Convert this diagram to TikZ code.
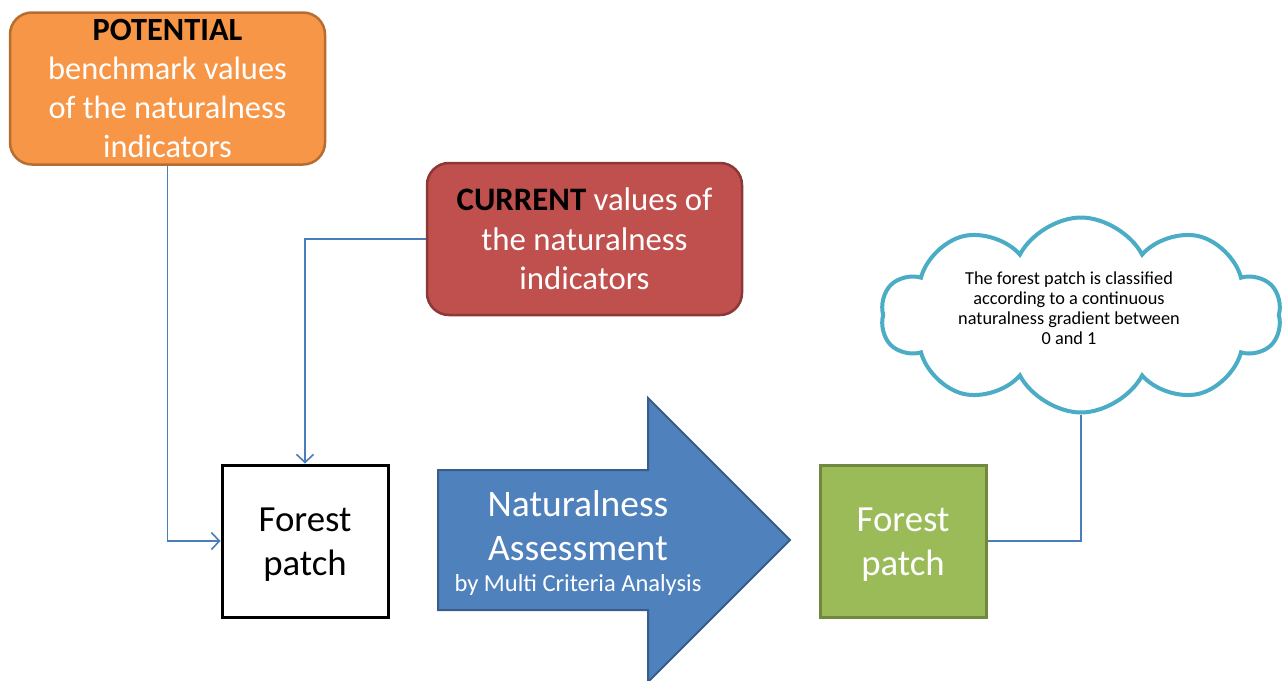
\documentclass[tikz,border=0pt]{standalone}
\usepackage{fontspec}
\setmainfont{Carlito}
\usetikzlibrary{arrows.meta,shapes.symbols}
\definecolor{orfill}{HTML}{F79646}
\definecolor{orline}{HTML}{B66D31}
\definecolor{rdfill}{HTML}{C0504D}
\definecolor{rdline}{HTML}{8C3836}
\definecolor{blfill}{HTML}{4F81BD}
\definecolor{blline}{HTML}{385D8A}
\definecolor{grfill}{HTML}{9BBB59}
\definecolor{grline}{HTML}{71893F}
\definecolor{cloudc}{HTML}{4BACC6}
\definecolor{conncol}{HTML}{4A7EBB}
\begin{document}
\begin{tikzpicture}[x=1pt,y=-1pt,
  roundbox/.style={rounded corners=22pt, line width=2.5pt, align=center, inner sep=0pt,
    minimum width=315pt, minimum height=152pt, text=white},
  patchbox/.style={line width=3pt, inner sep=0pt,
    minimum width=166pt, minimum height=152pt},
  patchtext/.style={align=center, inner sep=0pt, font=\fontsize{36.8}{44}\selectfont},
  conn/.style={draw=conncol, line width=1.6pt},
  tip/.style={-{Straight Barb[length=8pt,width=17pt,line width=1.6pt]}}]
\useasboundingbox (0,0) rectangle (1287,680);

\node[roundbox, fill=orfill, draw=orline, font=\fontsize{32.4}{38.8}\selectfont] (pot) at (167.5,88.5)
  {\textcolor{black}{\textbf{POTENTIAL}}\\benchmark values\\of the naturalness\\indicators};

\node[roundbox, fill=rdfill, draw=rdline, font=\fontsize{32.8}{39.5}\selectfont] (cur) at (584.5,239)
  {\textcolor{black}{\textbf{CURRENT}} values of\\the naturalness\\indicators};

\node[patchbox, draw=black, fill=white] (fp1) at (305,541) {};
\node[patchtext] (fp1t) at (305,545) {Forest\\patch};

\draw[fill=blfill, draw=blline, line width=2pt] (438,470) -- (648,470) -- (648,398) -- (790,540)
  -- (648,682) -- (648,610) -- (438,610) -- cycle;
\node[text=white, align=center, inner sep=0pt, font=\fontsize{37.5}{44}\selectfont] (nat) at (578,526)
  {Naturalness\\Assessment};
\node[text=white, inner sep=0pt, font=\fontsize{24.5}{28}\selectfont] (mca) at (578,585)
  {by Multi Criteria Analysis};

\node[patchbox, draw=grline, fill=grfill] (fp2) at (903,541) {};
\node[patchtext, text=white] (fp2t) at (903,545) {Forest\\patch};

\node[cloud, cloud puffs=10, cloud puff arc=125, aspect=2, draw=cloudc, fill=white, line width=4pt,
  minimum width=400pt, minimum height=195pt] (cl) at (1081,315) {};
\node[align=center, inner sep=0pt, font=\fontsize{18.3}{20}\selectfont] (ct) at (1069,308)
  {The forest patch is classified\\according to a continuous\\naturalness gradient between\\0 and 1};

\draw[conn, tip] (pot.south) -- (pot.south |- fp1.west) -- (fp1.west);
\draw[conn, tip] (cur.west) -- (cur.west -| fp1.north) -- (fp1.north);
\draw[conn] (fp2.east) -- (fp2.east -| cl.south) -- (cl.south);
\end{tikzpicture}
\end{document}
